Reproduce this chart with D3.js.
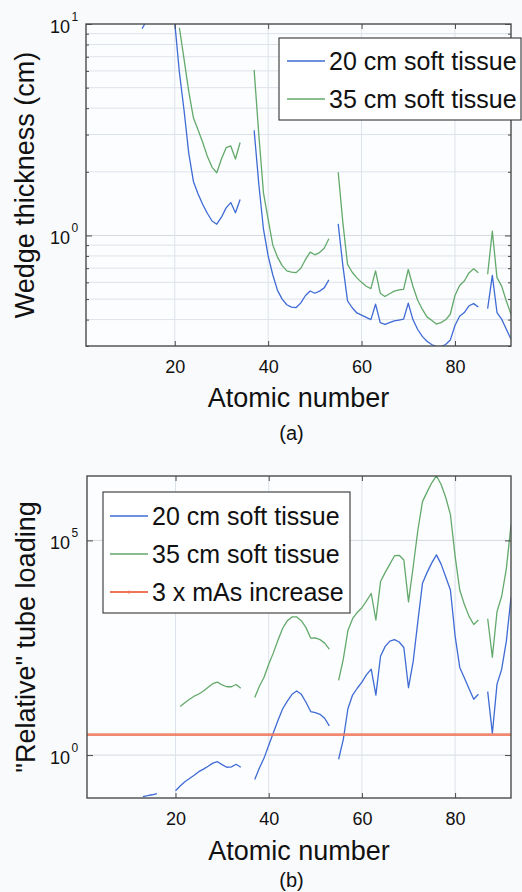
<!DOCTYPE html>
<html><head><meta charset="utf-8">
<script src="https://cdn.jsdelivr.net/npm/d3@7"></script>
<style>
html,body{margin:0;padding:0;background:#f9fafc;}
svg{display:block;font-family:"Liberation Sans",Arial,Helvetica,sans-serif;}
</style></head><body>
<svg id="c" width="522" height="892"></svg>
<script>
// ---------- DATA ----------
const atomicNumbers = [13,14,15,16,17,18,19,20,21,22,23,24,25,26,27,28,29,30,31,32,33,34,35,36,37,38,39,40,41,42,43,44,45,46,47,48,49,50,51,52,53,54,55,56,57,58,59,60,61,62,63,64,65,66,67,68,69,70,71,72,73,74,75,76,77,78,79,80,81,82,83,84,85,86,87,88,89,90,91,92];

// (a) wedge thickness (cm)
const wedge20cm = [
  9.5,10.4,11.5,12.5,
  null,null,null,
  10.2,5.9,3.9,2.45,1.8,1.57,1.40,1.27,1.17,1.13,1.22,1.35,1.43,1.28,1.48,
  null,null,
  3.14,1.75,1.07,0.80,0.65,0.55,0.50,0.47,0.458,0.456,0.48,0.52,0.546,0.533,0.545,0.565,0.616,
  null,
  1.135,0.72,0.49,0.455,0.43,0.42,0.41,0.40,0.473,0.387,0.38,0.387,0.394,0.398,0.402,0.478,0.40,0.36,0.333,0.316,0.305,0.298,0.298,0.305,0.32,0.375,0.415,0.432,0.465,0.476,0.459,
  null,
  0.451,0.647,0.432,0.402,0.36,0.323
];
const wedge35cm = [
  null,null,null,null,
  null,null,null,
  null,9.6,6.8,4.8,3.6,3.15,2.75,2.36,2.1,1.98,2.3,2.6,2.65,2.3,2.75,
  null,null,
  6.07,3.0,1.59,1.19,0.90,0.79,0.72,0.68,0.67,0.667,0.70,0.77,0.834,0.81,0.83,0.87,0.965,
  null,
  1.99,1.15,0.73,0.67,0.63,0.60,0.575,0.56,0.68,0.533,0.514,0.53,0.545,0.553,0.556,0.69,0.575,0.495,0.448,0.412,0.397,0.381,0.387,0.399,0.424,0.52,0.58,0.609,0.665,0.696,0.667,
  null,
  0.655,1.047,0.632,0.576,0.49,0.424
];

// (b) "relative" tube loading
const tube20cm = [
  0.108,0.113,0.119,0.127,
  null,null,null,
  0.147,0.19,0.24,0.285,0.34,0.41,0.47,0.55,0.65,0.70,0.60,0.52,0.53,0.61,0.52,
  null,null,
  0.27,0.5,0.85,1.7,3.3,6.5,12,18,26,31,26,17,10.3,9.7,8.9,7.2,4.8,
  null,
  0.8,2.3,12,25,36,50,75,100,25,200,340,450,490,430,320,37,150,1270,10000,18000,30000,46000,28000,14000,7000,600,110,62,35,20,26,
  null,
  30,3.2,45,100,450,4700
];
const tube35cm = [
  null,null,null,null,
  null,null,null,
  null,13.5,16.5,20,23.5,26.5,31,38,46,50,43,39,39,44,36,
  null,null,
  22,40,65,130,240,480,900,1350,1650,1650,1350,930,530,535,490,405,295,
  null,
  55,170,800,1500,2100,2700,3900,5800,1400,11000,18000,28000,44000,45000,35000,3700,24000,170000,800000,1350000,2200000,3200000,2000000,1000000,400000,43000,7000,3200,1700,1100,1400,
  null,
  1500,190,2200,5000,22000,230000
];
const mAsIncreaseLevel = 3;

const xTickValues = [20,40,60,80];
const topMajorY = [1,10];
const topMinorY = [0.3,0.4,0.5,0.6,0.7,0.8,0.9,2,3,4,5,6,7,8,9];
const bottomMajorY = [1,100000];
const legendTop = ["20 cm soft tissue","35 cm soft tissue"];
const legendBottom = ["20 cm soft tissue","35 cm soft tissue","3 x mAs increase"];

// ---------- STYLE ----------
const C_BLUE = "#3f6bd5", C_GREEN = "#63a96b", C_RED = "#f07458";
const GRID = "#dde3ea", AXIS = "#4a4a4a";
const svg = d3.select("#c");

function panel(o){
  const {left,top,right,bottom,yDomain,majors,minors,series,clipId,xLabel,yLabel,yLabelX,panelTag,tagY,xLabelY} = o;
  const x = d3.scaleLinear().domain([1,92]).range([left,right]);
  const y = d3.scaleLog().domain(yDomain).range([bottom,top]);
  const g = svg.append("g");
  g.append("rect").attr("x",left).attr("y",top).attr("width",right-left).attr("height",bottom-top).attr("fill","#fcfdfe");
  // grid
  const gridY = majors.concat(minors).filter(v=>v>yDomain[0]&&v<yDomain[1]);
  g.selectAll(".gy").data(gridY).join("line").attr("x1",left).attr("x2",right)
    .attr("y1",d=>y(d)).attr("y2",d=>y(d)).attr("stroke",d=>majors.includes(d)?"#d3d9e0":GRID).attr("stroke-width",1);
  g.selectAll(".gx").data(xTickValues).join("line").attr("y1",top).attr("y2",bottom)
    .attr("x1",d=>x(d)).attr("x2",d=>x(d)).attr("stroke",GRID).attr("stroke-width",1);
  // clip
  svg.append("clipPath").attr("id",clipId).append("rect").attr("x",left).attr("y",top).attr("width",right-left).attr("height",bottom-top);
  const lines = g.append("g").attr("clip-path",`url(#${clipId})`);
  series.forEach(s=>{
    if(s.constant!==undefined){
      lines.append("line").attr("x1",left).attr("x2",right).attr("y1",y(s.constant)).attr("y2",y(s.constant))
        .attr("stroke",s.color).attr("stroke-width",2.6).attr("opacity",0.85);
    } else {
      const pts = atomicNumbers.map((z,i)=>({z,v:s.values[i]}));
      const ln = d3.line().defined(d=>d.v!==null).x(d=>x(d.z)).y(d=>y(d.v));
      lines.append("path").attr("d",ln(pts)).attr("fill","none").attr("stroke",s.color).attr("stroke-width",1.3).attr("stroke-linejoin","round");
    }
  });
  // axes ticks
  const styleAxis = sel=>{ sel.select(".domain").remove(); sel.selectAll(".tick line").attr("stroke",AXIS); };
  const xb = g.append("g").attr("transform",`translate(0,${bottom})`)
    .call(d3.axisBottom(x).tickValues(xTickValues).tickSizeInner(-5).tickSizeOuter(0).tickPadding(14)).call(styleAxis);
  xb.selectAll(".tick text").attr("font-size",18).attr("fill","#111").attr("font-family","Liberation Sans, Arial, sans-serif");
  g.append("g").attr("transform",`translate(0,${top})`)
    .call(d3.axisTop(x).tickValues(xTickValues).tickSizeInner(-5).tickSizeOuter(0).tickFormat("")).call(styleAxis);
  g.append("g").attr("transform",`translate(${left},0)`)
    .call(d3.axisLeft(y).tickValues(majors).tickSizeInner(-6).tickSizeOuter(0).tickFormat("")).call(styleAxis);
  g.append("g").attr("transform",`translate(${right},0)`)
    .call(d3.axisRight(y).tickValues(majors).tickSizeInner(-6).tickSizeOuter(0).tickFormat("")).call(styleAxis);
  if(minors.length){
    g.append("g").attr("transform",`translate(${left},0)`)
      .call(d3.axisLeft(y).tickValues(minors).tickSizeInner(-3).tickSizeOuter(0).tickFormat("")).call(styleAxis);
    g.append("g").attr("transform",`translate(${right},0)`)
      .call(d3.axisRight(y).tickValues(minors).tickSizeInner(-3).tickSizeOuter(0).tickFormat("")).call(styleAxis);
  }
  // y tick labels with superscripts
  majors.forEach(v=>{
    const yy = y(v);
    g.append("text").attr("x",70).attr("y",yy+9).attr("text-anchor","end").attr("font-size",18).attr("fill","#111").text("10");
    g.append("text").attr("x",71.5).attr("y",yy-3).attr("font-size",12).attr("fill","#111").text(String(Math.round(Math.log10(v))));
  });
  // box
  g.append("rect").attr("x",left).attr("y",top).attr("width",right-left).attr("height",bottom-top)
    .attr("fill","none").attr("stroke",AXIS).attr("stroke-width",1.4);
  // labels
  g.append("text").attr("x",(left+right)/2).attr("y",xLabelY).attr("text-anchor","middle").attr("font-size",27).attr("fill","#111").text(xLabel);
  g.append("text").attr("transform",`translate(${yLabelX},${(top+bottom)/2}) rotate(-90)`).attr("text-anchor","middle").attr("font-size",27).attr("fill","#111").text(yLabel);
  g.append("text").attr("x",291.5).attr("y",tagY).attr("text-anchor","middle").attr("font-size",20).attr("fill","#111").text(panelTag);
  return {x,y,g};
}

// Panel (a)
const pa = panel({left:86,top:24,right:511,bottom:346,yDomain:[0.3,10],majors:topMajorY,minors:topMinorY,
  series:[{values:wedge20cm,color:C_BLUE},{values:wedge35cm,color:C_GREEN}],
  clipId:"clipA",xLabel:"Atomic number",yLabel:"Wedge thickness (cm)",yLabelX:34,panelTag:"(a)",tagY:440,xLabelY:407});

// Panel (b)
const pb = panel({left:87,top:476,right:511,bottom:798,yDomain:[0.1,Math.pow(10,6.5)],majors:bottomMajorY,minors:[],
  series:[{values:tube20cm,color:C_BLUE},{values:tube35cm,color:C_GREEN},{constant:mAsIncreaseLevel,color:C_RED}],
  clipId:"clipB",xLabel:"Atomic number",yLabel:"\"Relative\" tube loading",yLabelX:35,panelTag:"(b)",tagY:887,xLabelY:860});

// Legends
function legend(g,x0,y0,w,h,labels,colors,firstBase,step,lineX1,lineX2,textX){
  g.append("rect").attr("x",x0).attr("y",y0).attr("width",w).attr("height",h).attr("fill","#ffffff").attr("stroke","#333").attr("stroke-width",1.1);
  labels.forEach((t,i)=>{
    const b = firstBase + i*step;
    const ly = b - 9;
    g.append("line").attr("x1",lineX1).attr("x2",lineX2).attr("y1",ly).attr("y2",ly).attr("stroke",colors[i]).attr("stroke-width",colors[i]===C_RED?1.8:1.3);
    if(colors[i]===C_RED){
      g.append("circle").attr("cx",(lineX1+lineX2)/2).attr("cy",ly).attr("r",1.5).attr("fill",C_RED);
    }
    g.append("text").attr("x",textX).attr("y",b).attr("font-size",25).attr("fill","#111").text(t);
  });
}
legend(pa.g,279,38,242,82,legendTop,[C_BLUE,C_GREEN],70,38,287,325,329);
legend(pb.g,103,492,247,121,legendBottom,[C_BLUE,C_GREEN,C_RED],525,38,110,148,152);
</script>
</body></html>
